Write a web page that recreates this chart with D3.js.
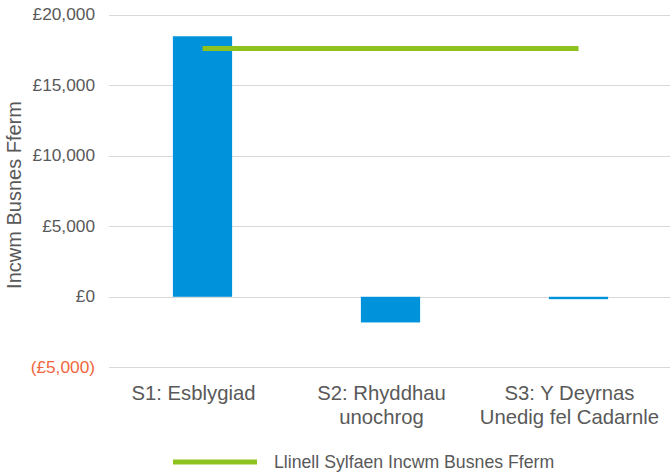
<!DOCTYPE html>
<html>
<head>
<meta charset="utf-8">
<script src="https://cdn.jsdelivr.net/npm/d3@7"></script>
<style>
  body { margin: 0; background: #fff; }
  text { font-family: "Liberation Sans", Arial, sans-serif; fill: #595959; }
</style>
</head>
<body>
<svg id="chart" width="670" height="472"></svg>
<script>
// scenarios and values
var categories = ["S1: Esblygiad", "S2: Rhyddhau unochrog", "S3: Y Deyrnas Unedig fel Cadarnle"];
var labelLines = [["S1: Esblygiad"], ["S2: Rhyddhau", "unochrog"], ["S3: Y Deyrnas", "Unedig fel Cadarnle"]];
var income = [18470, -1820, -170];
var baseline = [17600, 17600, 17600];
var yTicks = [-5000, 0, 5000, 10000, 15000, 20000];
var legendLabel = "Llinell Sylfaen Incwm Busnes Fferm";
var yTitle = "Incwm Busnes Fferm";

var svg = d3.select("#chart");

var x = d3.scalePoint().domain(categories).range([108.5, 672.5]).padding(0.5);
var step = x.step();
var barW = step * 0.315;

var y = d3.scaleLinear().domain([-5000, 20000]).range([367.3, 14.7]);

function fmt(v) {
	var s = "£" + d3.format(",")(Math.abs(v));
	return v < 0 ? "(" + s + ")" : s;
}

// gridlines
svg.append("g").selectAll("line").data(yTicks).enter().append("line")
	.attr("x1", 109).attr("x2", 670)
	.attr("y1", function(d) { return Math.round(y(d)) + 0.5; })
	.attr("y2", function(d) { return Math.round(y(d)) + 0.5; })
	.attr("stroke", "#d9d9d9").attr("stroke-width", 1);

// y tick labels
svg.append("g").selectAll("text").data(yTicks).enter().append("text")
	.attr("x", 95).attr("y", function(d) { return y(d); })
	.attr("dy", "0.33em")
	.attr("text-anchor", "end")
	.style("font-size", "17.3px")
	.style("fill", function(d) { return d < 0 ? "#f0663e" : "#595959"; })
	.text(fmt);

// bars
svg.append("g").selectAll("rect").data(income).enter().append("rect")
	.attr("x", function(d, i) { return x(categories[i]) - barW / 2; })
	.attr("width", barW)
	.attr("y", function(d) { return y(Math.max(0, d)); })
	.attr("height", function(d) { return Math.abs(y(d) - y(0)); })
	.attr("fill", "#0092da");

// baseline line
var line = d3.line()
	.x(function(d, i) { return x(categories[i]); })
	.y(function(d) { return y(d); });
svg.append("path").datum(baseline)
	.attr("d", line)
	.attr("fill", "none")
	.attr("stroke", "#8dc21f")
	.attr("stroke-width", 5);

// x labels
var xl = svg.append("g").selectAll("text").data(labelLines).enter().append("text")
	.attr("x", function(d, i) { return x(categories[i]) - 9; })
	.attr("y", 400)
	.attr("text-anchor", "middle")
	.style("font-size", "20.3px");
xl.selectAll("tspan").data(function(d) { return d; }).enter().append("tspan")
	.attr("x", function() { return d3.select(this.parentNode).attr("x"); })
	.attr("dy", function(d, i) { return i ? 24 : 0; })
	.text(function(d) { return d; });

// y title
svg.append("text")
	.attr("transform", "translate(21,195) rotate(-90)")
	.attr("text-anchor", "middle")
	.style("font-size", "20px")
	.text(yTitle);

// legend
svg.append("line")
	.attr("x1", 173).attr("x2", 257).attr("y1", 462).attr("y2", 462)
	.attr("stroke", "#8dc21f").attr("stroke-width", 5);
svg.append("text")
	.attr("x", 274).attr("y", 462).attr("dy", "0.35em")
	.style("font-size", "17.7px")
	.text(legendLabel);
</script>
</body>
</html>
